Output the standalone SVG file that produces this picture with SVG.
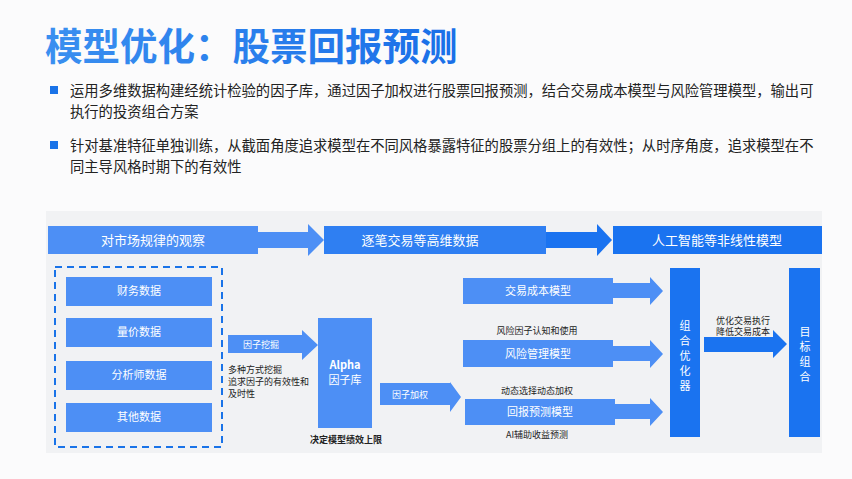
<svg xmlns="http://www.w3.org/2000/svg" width="852" height="479" viewBox="0 0 852 479">
<defs>
<linearGradient id="tg" x1="0" x2="1"><stop offset="0" stop-color="#3a8ff0"/><stop offset="1" stop-color="#1a6fe8"/></linearGradient>
<style>
text{font-family:"Noto Sans CJK SC","Noto Sans",sans-serif}
.b{fill:#4d8ff5}.d{fill:#1a73f0}
.w{fill:#fff;font-size:11px;text-anchor:middle}
.w13{fill:#fff;font-size:13px;text-anchor:middle}
.w9{fill:#fff;font-size:9px;text-anchor:middle}
.k{fill:#222;font-size:9px}
.p{fill:#222;font-size:14.3px}
</style>
</defs>
<rect width="852" height="479" fill="#fbfbfc"/>
<text x="45" y="60" font-size="37.5" font-weight="bold" fill="url(#tg)">模型优化：股票回报预测</text>
<rect x="50" y="86" width="8" height="8" fill="#1a73e8"/>
<rect x="50" y="141" width="8" height="8" fill="#1a73e8"/>
<text class="p" x="70" y="96">运用多维数据构建经统计检验的因子库，通过因子加权进行股票回报预测，结合交易成本模型与风险管理模型，输出可</text>
<text class="p" x="70" y="117">执行的投资组合方案</text>
<text class="p" x="70" y="151">针对基准特征单独训练，从截面角度追求模型在不同风格暴露特征的股票分组上的有效性；从时序角度，追求模型在不</text>
<text class="p" x="70" y="172">同主导风格时期下的有效性</text>
<rect x="46" y="211" width="776" height="242" fill="#f1f2f4"/>
<g id="top">
<rect class="b" x="48" y="226" width="210" height="28"/>
<text class="w13" x="153" y="245">对市场规律的观察</text>
<rect x="324" y="226" width="222" height="28" fill="#2f7ff2"/>
<text class="w13" x="420" y="245">逐笔交易等高维数据</text>
<rect class="d" x="613" y="226" width="209" height="28"/>
<text class="w13" x="717" y="245">人工智能等非线性模型</text>
</g>
<g id="connectors">
<polygon class="b" points="258,232 308,232 308,224 324,240 308,256 308,248 258,248"/>
<polygon class="d" points="546,232 597,232 597,224 612,240 597,256 597,248 546,248"/>
<polygon class="b" points="228,335 302,335 302,330 318,345 302,360 302,353 228,353"/>
<polygon class="b" points="380,383 450,383 450,382 461,397 450,412 450,405 380,405"/>
<polygon class="b" points="613,283 650,283 650,277 663,291 650,305 650,298 613,298"/>
<polygon class="b" points="613,346 650,346 650,340 663,354 650,368 650,361 613,361"/>
<polygon class="b" points="615,404 650,404 650,398 663,412 650,426 650,419 615,419"/>
<polygon class="d" points="704,337 773,337 773,330 787,344 773,358 773,352 704,352"/>
</g>
<g id="data">
<rect x="55" y="267" width="167" height="180" fill="none" stroke="#1a73e8" stroke-width="2" stroke-dasharray="7,5"/>
<rect class="b" x="66" y="277" width="146" height="29"/><text class="w" x="139" y="295">财务数据</text>
<rect class="b" x="66" y="318" width="146" height="29"/><text class="w" x="139" y="336">量价数据</text>
<rect class="b" x="66" y="361" width="146" height="29"/><text class="w" x="139" y="379">分析师数据</text>
<rect class="b" x="66" y="403" width="146" height="29"/><text class="w" x="139" y="421">其他数据</text>
</g>
<g id="labels">
<text class="w9" x="261" y="348">因子挖掘</text>
<text class="k" x="228" y="373">多种方式挖掘</text>
<text class="k" x="228" y="385">追求因子的有效性和</text>
<text class="k" x="228" y="397">及时性</text>
<text class="w9" x="410" y="398">因子加权</text>
<text class="k" x="310" y="443" font-weight="bold">决定模型绩效上限</text>
<text class="k" x="537" y="334" text-anchor="middle">风险因子认知和使用</text>
<text class="k" x="537" y="394" text-anchor="middle">动态选择动态加权</text>
<text class="k" x="537" y="438" text-anchor="middle">AI辅助收益预测</text>
<text class="k" x="743" y="324" text-anchor="middle">优化交易执行</text>
<text class="k" x="743" y="335" text-anchor="middle">降低交易成本</text>
</g>
<g id="alpha"><rect class="b" x="318" y="318" width="54" height="110"/>
<text class="w" x="345" y="369" font-weight="bold">Alpha</text><text class="w" x="345" y="384">因子库</text></g>
<g id="cost"><rect class="b" x="463" y="278" width="150" height="26"/><text class="w" x="538" y="295">交易成本模型</text></g>
<g id="risk"><rect class="b" x="463" y="340" width="150" height="27"/><text class="w" x="538" y="358">风险管理模型</text></g>
<g id="ret"><rect class="b" x="465" y="399" width="150" height="26"/><text class="w" x="540" y="416">回报预测模型</text></g>
<g id="opt"><rect class="d" x="670" y="268" width="30" height="169"/>
<text class="w" x="685" y="330">组</text><text class="w" x="685" y="345">合</text><text class="w" x="685" y="360">优</text><text class="w" x="685" y="375">化</text><text class="w" x="685" y="390">器</text></g>
<g id="target"><rect class="d" x="789" y="268" width="31" height="169"/>
<text class="w" x="805" y="336">目</text><text class="w" x="805" y="351">标</text><text class="w" x="805" y="366">组</text><text class="w" x="805" y="381">合</text></g>
</svg>
